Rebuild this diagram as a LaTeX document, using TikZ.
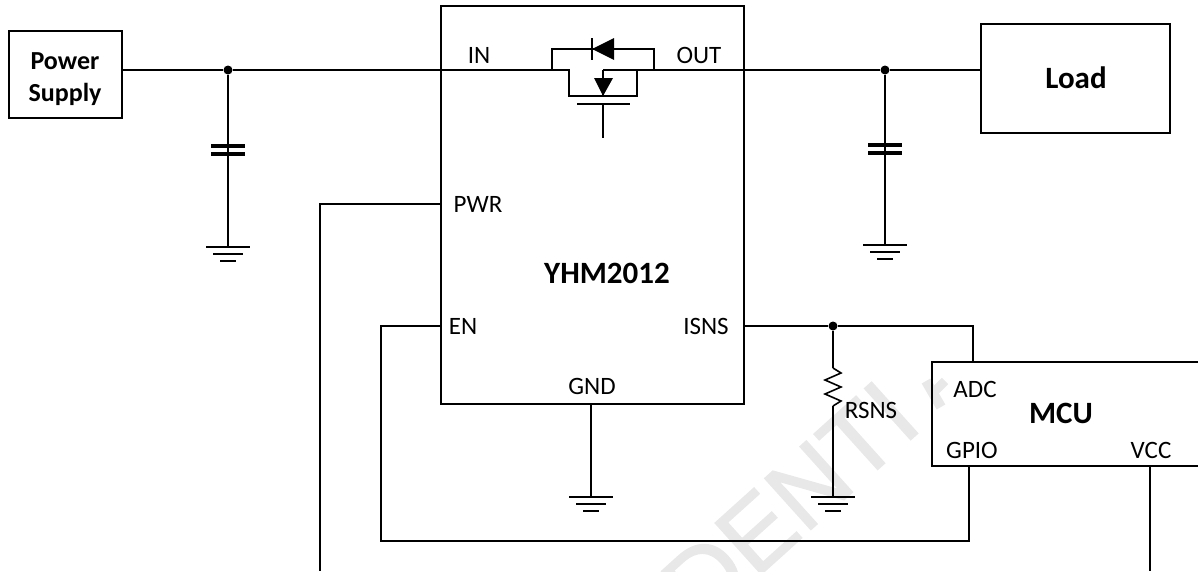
\documentclass[tikz,border=0pt]{standalone}
\usepackage{fontspec}
\setmainfont{Carlito}
\newfontfamily\waterfont[FakeBold=1.5]{Liberation Sans}
\usetikzlibrary{positioning}

\begin{document}
\begin{tikzpicture}[x=1pt,y=-1pt,line width=1.6pt,
    block/.style={draw,rectangle,inner sep=0pt},
    pin/.style={inner sep=0pt,font=\fontsize{25}{30}\selectfont},
    title/.style={inner sep=0pt,align=center,font=\fontsize{31}{36}\selectfont\bfseries},
    dot/.style={circle,fill,inner sep=0pt,minimum size=9pt},
    gnd/.pic={
      \draw (-22,0) -- (22,0);
      \draw (-15,7) -- (15,7);
      \draw (-8,14) -- (8,14);
    },
    cap/.pic={
      \draw[line width=3.5pt] (-17,-4) -- (17,-4);
      \draw[line width=3.5pt] (-17,4) -- (17,4);
    }]

  \useasboundingbox (0,0) rectangle (1198,571);
  \node[rotate=42,text=black!9,inner sep=0pt,font=\fontsize{100}{100}\waterfont] (water) at (790,502) {DENTI};
  \draw[black!9,line width=10pt] (926,381) -- (941,407);
  \draw[black!9,line width=9pt] (945,381) -- (933,393);

  \node[block,minimum width=113pt,minimum height=87pt] (supply) at (65.5,74.5) {};
  \node[title,font=\fontsize{26}{32}\selectfont\bfseries] (supply_t) at (65,79) {Power\\Supply};
  \node[block,line width=2.8pt,minimum width=303pt,minimum height=398pt] (chip) at (592.5,205) {};
  \node[title] (chip_t) at (607,273) {YHM2012};
  \node[block,minimum width=189pt,minimum height=109pt] (load) at (1075.5,78.5) {};
  \node[title] (load_t) at (1076,78) {Load};
  \node[block,minimum width=280pt,minimum height=104pt] (mcu) at (1072,414) {};
  \node[title] (mcu_t) at (1061,413) {MCU};

  \node[pin] (in) at (479,55) {IN};
  \node[pin] (out) at (699,55) {OUT};
  \node[pin] (pwr) at (478,204) {PWR};
  \node[pin] (en) at (463,326) {EN};
  \node[pin] (isns) at (706,326) {ISNS};
  \node[pin] (gnd_t) at (592,386) {GND};
  \node[pin] (adc) at (975,389) {ADC};
  \node[pin] (gpio) at (972,450) {GPIO};
  \node[pin] (vcc) at (1151,450) {VCC};
  \node[pin] (rsns) at (871,410) {RSNS};

  \node[dot] (j_in) at (228,70) {};
  \node[dot] (j_out) at (885,70) {};
  \node[dot] (j_sns) at (833,326) {};

  \coordinate (m_s) at (552,70);
  \coordinate (m_d) at (654,70);
  \coordinate (m_g) at (603,104);
  \coordinate (m_l) at (569,96);
  \coordinate (m_r) at (637,96);
  \coordinate (m_c) at (603,96);
  \coordinate (m_t) at (603,70);
  \coordinate (c1_g) at (228,247);
  \coordinate (c2_g) at (885,245);
  \coordinate (r_t) at (833,368);
  \coordinate (r_b) at (833,406);
  \coordinate (r_g) at (833,497);
  \coordinate (chip_g) at (591,497);
  \coordinate (pwr_e) at (320,571);
  \coordinate (vcc_e) at (1150,571);

  \path (supply.east |- j_in) edge (j_in)
      (j_in) edge (m_s)
      (j_in) edge (c1_g)
      (m_d) edge (j_out)
      (j_out) edge (load.west |- j_out)
      (j_out) edge (c2_g)
      (chip.south -| chip_g) edge (chip_g)
      (j_sns) edge (r_t)
      (r_b) edge (r_g)
      (mcu.south -| vcc_e) edge (vcc_e);

  \draw (m_s) -- (m_s -| m_l) -- (m_l) -- (m_r) -- (m_r |- m_d);
  \draw (m_t) -- (m_d);
  \draw (m_s) -- (552,49) -- (654,49) -- (m_d);
  \draw (m_t) -- (m_c);
  \draw[line width=2.2pt] (577,104) -- (630,104);
  \draw (m_g) -- (603,138);
  \draw (592,38) -- (592,60);
  \fill (592,49) -- (614,38) -- (614,60) -- cycle;
  \fill (594,78) -- (613,78) -- (603,96) -- cycle;

  \draw (r_t) -- (841,373) -- (825,380) -- (841,387) -- (825,394) -- (841,401) -- (r_b);

  \draw (chip.west |- pwr) -| (pwr_e);
  \draw (chip.west |- en) -- (381,326) -- (381,541) -- (969,541) -- (969,466);
  \draw (chip.east |- isns) -- (j_sns) -- (973,326) -- (973,362);

  \pic at (228,150) {cap};
  \pic at (885,149) {cap};
  \pic at (c1_g) {gnd};
  \pic at (c2_g) {gnd};
  \pic at (r_g) {gnd};
  \pic at (chip_g) {gnd};

\end{tikzpicture}
\end{document}
